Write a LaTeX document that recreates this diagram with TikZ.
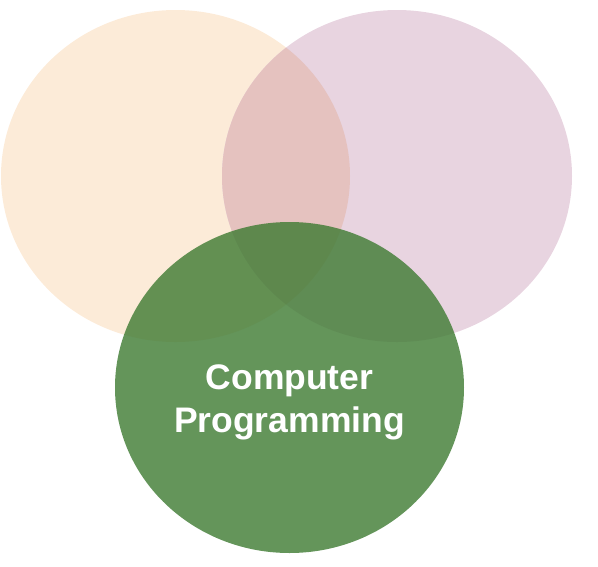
\documentclass[tikz,border=0pt]{standalone}
\usepackage{fontspec}
\setmainfont{Liberation Sans}
\definecolor{peach}{RGB}{252,235,216}
\definecolor{mauve}{RGB}{232,212,224}
\definecolor{overlap}{RGB}{229,194,191}
\definecolor{leaf}{RGB}{61,122,49}
\tikzset{
  label/.style={text=white, font=\bfseries\fontsize{35.5}{43}\selectfont, align=center}
}
\begin{document}
\begin{tikzpicture}[x=1pt,y=-1pt]
\useasboundingbox (0,0) rectangle (598,566);
\fill[peach] (175.5,176) ellipse [x radius=174.5, y radius=166];
\fill[mauve] (397,176) ellipse [x radius=175, y radius=166];
\begin{scope}
  \clip (175.5,176) ellipse [x radius=174.5, y radius=166];
  \fill[overlap] (397,176) ellipse [x radius=175, y radius=166];
\end{scope}
\fill[leaf, opacity=0.8] (289.5,387.5) ellipse [x radius=174.5, y radius=165.5];
\node[label, anchor=base] (cp) at (289.5,432) {Computer\\Programming};
\end{tikzpicture}
\end{document}
